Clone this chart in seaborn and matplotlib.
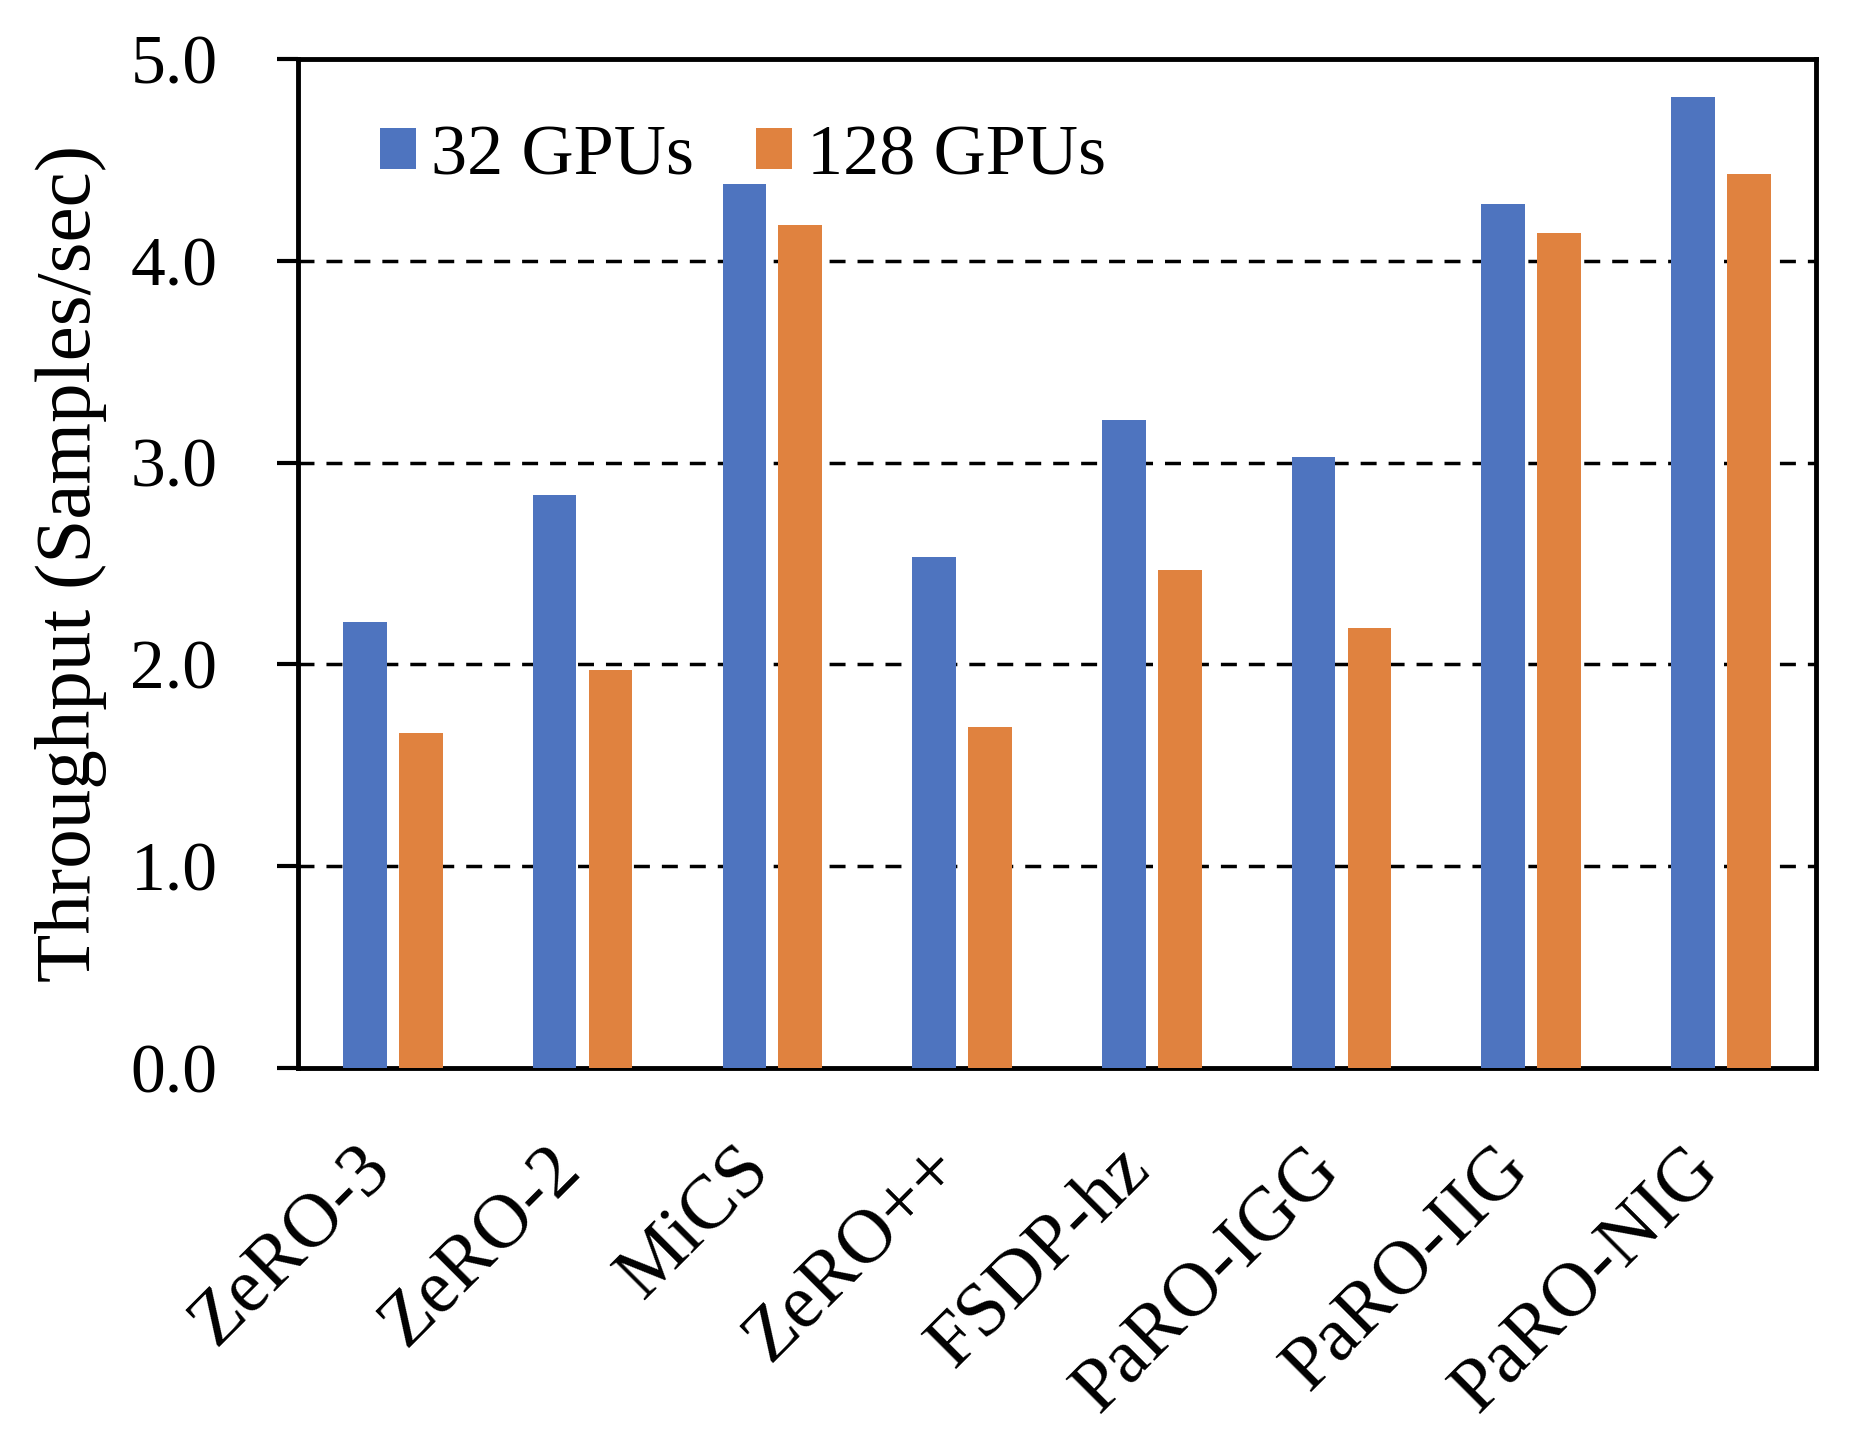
import os
import matplotlib
matplotlib.use("Agg")
import matplotlib.pyplot as plt
from matplotlib import font_manager as fm
import seaborn as sns
import pandas as pd

methods = ["ZeRO-3", "ZeRO-2", "MiCS", "ZeRO++", "FSDP-hz", "PaRO-IGG", "PaRO-IIG", "PaRO-NIG"]
gpus_32 = [2.21, 2.84, 4.38, 2.53, 3.21, 3.03, 4.28, 4.81]
gpus_128 = [1.66, 1.97, 4.18, 1.69, 2.47, 2.18, 4.14, 4.43]
series = ["32 GPUs", "128 GPUs"]
yticks = [0.0, 1.0, 2.0, 3.0, 4.0, 5.0]

df = pd.DataFrame({
    "method": methods * 2,
    "value": gpus_32 + gpus_128,
    "series": [series[0]] * len(methods) + [series[1]] * len(methods),
})

sns.set_theme(style="white")

FONT_PATH = "/usr/share/fonts/truetype/liberation/LiberationSerif-Regular.ttf"
if not os.path.exists(FONT_PATH):
    FONT_PATH = fm.findfont(fm.FontProperties(family="Liberation Serif"))
fm.fontManager.addfont(FONT_PATH)


def fp(size):
    return fm.FontProperties(fname=FONT_PATH, size=size)


fig = plt.figure(figsize=(18.6, 14.4), dpi=100)
ax = fig.add_axes([0.1602, 0.2583, 0.8161, 0.7007])

palette = {"32 GPUs": "#4E74BF", "128 GPUs": "#E0823F"}
sns.barplot(data=df, x="method", y="value", hue="series", order=methods,
            hue_order=series, palette=palette, width=0.59, gap=0.22,
            saturation=1, ax=ax, zorder=3, linewidth=0, edgecolor="none")

ax.set_ylim(0, 5)
ax.set_xlim(-0.5, len(methods) - 0.5)
ax.tick_params(axis="y", direction="out", length=15, width=3.0, pad=43, left=True, color="black")
ax.tick_params(axis="x", length=0, pad=74)
ax.set_yticks(yticks)
ax.set_yticklabels([f"{v:.1f}" for v in yticks], fontproperties=fp(50), color="black")
ax.set_xticks(range(len(methods)))
ax.set_xticklabels(methods, fontproperties=fp(55), color="black",
                   rotation=45, ha="right", va="baseline", rotation_mode="anchor")
ax.set_xlabel("")
ax.set_ylabel("Throughput (Samples/sec)", fontproperties=fp(57), color="black")
ax.yaxis.set_label_coords(-0.126, 0.5)

for v in yticks[1:-1]:
    ax.axhline(v, color="black", linewidth=2.5, linestyle=(0, (4.6, 3.45)), zorder=1)

for s in ax.spines.values():
    s.set_visible(True)
    s.set_color("black")
    s.set_linewidth(3.5)

leg = ax.legend(loc="center left", bbox_to_anchor=(0.035, 0.903), ncol=2, frameon=False,
                prop=fp(52), handlelength=0.5, handleheight=0.5,
                handletextpad=0.2, columnspacing=0.87, borderaxespad=0)
for t in leg.get_texts():
    t.set_color("black")

fig.savefig("out.png", dpi=100)
